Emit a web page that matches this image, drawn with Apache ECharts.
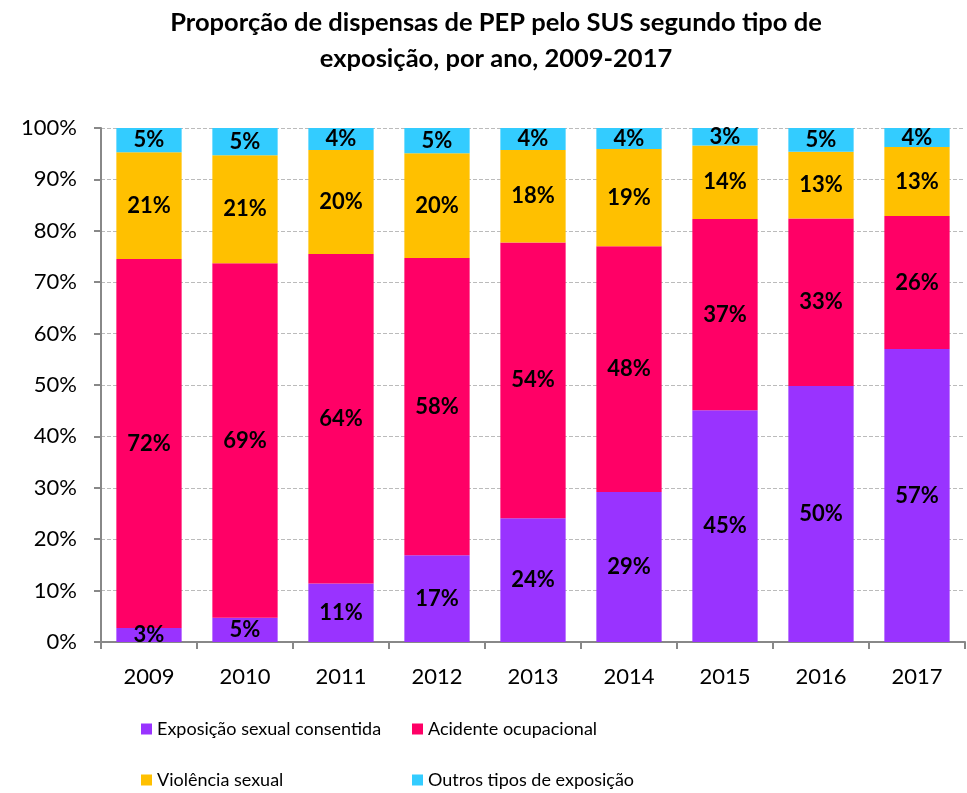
<!DOCTYPE html>
<html>
<head>
<meta charset="utf-8">
<script src="https://cdn.jsdelivr.net/npm/echarts@6/dist/echarts.min.js"></script>
<style>
  html, body { margin: 0; padding: 0; background: #fff; }
  #chart { width: 967px; height: 793px; }
</style>
</head>
<body>
<div id="chart"></div>
<script>
// anos
const years = ["2009", "2010", "2011", "2012", "2013", "2014", "2015", "2016", "2017"];

// proporções (%) por tipo de exposição
const consentida = [2.7, 4.7, 11.4, 16.9, 24.1, 29.2, 45.1, 49.8, 57.0];
const ocupacional = [71.8, 69.0, 64.1, 57.8, 53.6, 47.8, 37.2, 32.6, 25.9];
const violencia = [20.8, 21.0, 20.2, 20.4, 18.0, 18.9, 14.3, 13.0, 13.4];
const outros = [4.7, 5.3, 4.3, 4.9, 4.3, 4.1, 3.4, 4.6, 3.7];

const yTicks = [0, 10, 20, 30, 40, 50, 60, 70, 80, 90, 100];

const FONT = "Lato";

const chart = echarts.init(document.getElementById("chart"));

const makeSeries = (name, data, color) => ({
  name: name,
  type: "bar",
  stack: "total",
  barWidth: "68%",
  data: data,
  itemStyle: { color: color },
  label: {
    show: true,
    position: "inside",
    color: "#000",
    fontFamily: FONT,
    fontWeight: "bold",
    fontSize: 22,
    formatter: (p) => Math.round(p.value) + "%",
  },
});

// one legend per item so the 2x2 grid lines up like the original
const legendAt = (name, left, top) => ({
  data: [name],
  left: left,
  top: top,
  itemWidth: 11,
  itemHeight: 11,
  icon: "rect",
  textStyle: { fontFamily: FONT, fontSize: 18, color: "#000" },
});

chart.setOption({
  animation: false,
  title: {
    text: "Proporção de dispensas de PEP pelo SUS segundo tipo de\nexposição, por ano, 2009-2017",
    left: 491,
    top: 0,
    textAlign: "center",
    textStyle: {
      fontFamily: FONT,
      fontWeight: "bold",
      fontSize: 25.5,
      lineHeight: 36,
      color: "#000",
    },
  },
  legend: [
    legendAt("Exposição sexual consentida", 136, 715),
    legendAt("Acidente ocupacional", 407, 715),
    legendAt("Violência sexual", 136, 766),
    legendAt("Outros tipos de exposição", 407, 766),
  ],
  grid: { left: 101, right: 2, top: 128, bottom: 151 },
  xAxis: {
    type: "category",
    data: years,
    axisLine: { lineStyle: { color: "#888", width: 2 } },
    axisTick: { show: true, alignWithLabel: false, length: 7, lineStyle: { color: "#888", width: 2 } },
    axisLabel: { fontFamily: FONT, fontSize: 22, color: "#000", margin: 24 },
  },
  yAxis: {
    type: "value",
    min: yTicks[0],
    max: yTicks[yTicks.length - 1],
    interval: 10,
    axisLine: { show: true, lineStyle: { color: "#888", width: 2 } },
    axisTick: { show: true, length: 7, lineStyle: { color: "#888", width: 2 } },
    axisLabel: {
      fontFamily: FONT,
      fontSize: 22,
      color: "#000",
      margin: 24,
      formatter: (v) => v + "%",
    },
    splitLine: { lineStyle: { color: "#bbb", type: "dashed", width: 1 } },
  },
  series: [
    makeSeries("Exposição sexual consentida", consentida, "#9933FF"),
    makeSeries("Acidente ocupacional", ocupacional, "#FF0066"),
    makeSeries("Violência sexual", violencia, "#FFC000"),
    makeSeries("Outros tipos de exposição", outros, "#33CCFF"),
  ],
});
</script>
</body>
</html>
